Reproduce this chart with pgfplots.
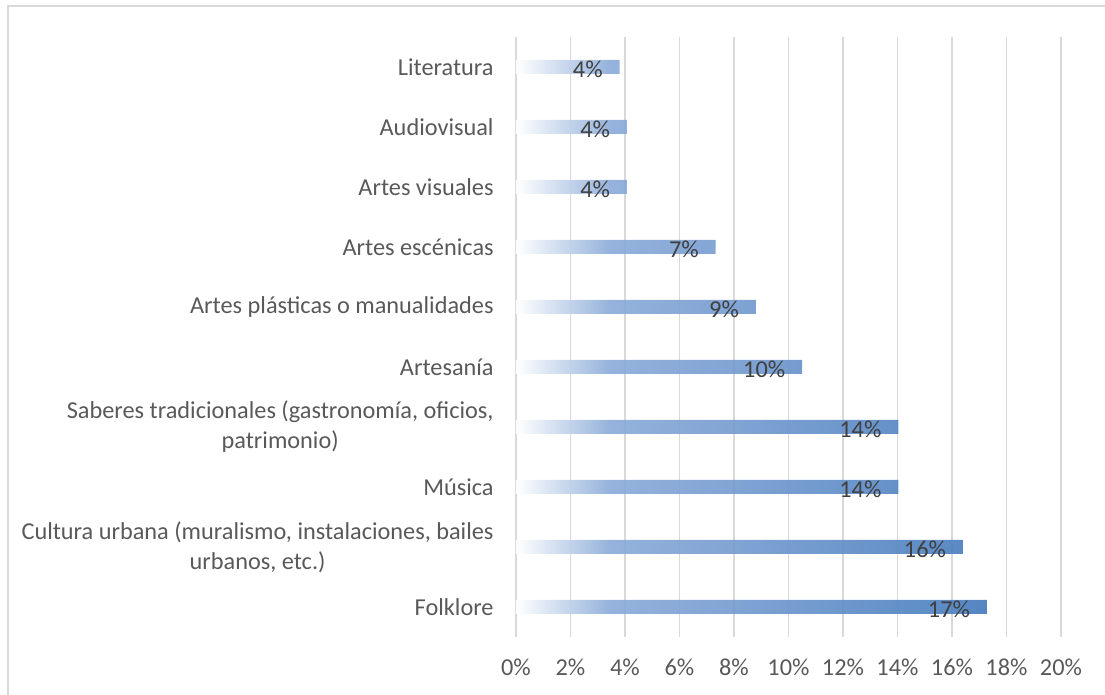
\documentclass[border=0pt]{standalone}
\usepackage{fontspec}
\setmainfont{Carlito}
\usepackage{pgfplots}
\pgfplotsset{compat=1.18}
\definecolor{gridc}{HTML}{D9D9D9}
\definecolor{txt}{HTML}{595959}
\definecolor{lbl}{HTML}{404040}
\definecolor{blight}{HTML}{8CACD9}
\definecolor{bdark}{HTML}{477CBD}
\pgfdeclarehorizontalshading{barshade}{100bp}{color(0bp)=(white); color(25bp)=(white); color(35bp)=(blight); color(75bp)=(bdark); color(100bp)=(bdark)}
\newcommand{\chartfont}{\fontsize{12.15}{15}\selectfont}
\begin{document}
\begin{tikzpicture}
\path[use as bounding box] (0,0) rectangle (552.5pt,347.5pt);
\draw[gridc, line width=1pt] (4pt,0) -- (4pt,344.5pt) -- (552.5pt,344.5pt);
\begin{axis}[
  at={(258pt,29pt)}, anchor=south west,
  scale only axis, width=272.5pt, height=300pt,
  xmin=0, xmax=20, ymin=-0.5, ymax=9.5,
  xtick={0,2,...,20},
  xticklabels={0\%,2\%,4\%,6\%,8\%,10\%,12\%,14\%,16\%,18\%,20\%},
  ytick={0,...,9},
  yticklabels={Folklore,{Cultura urbana (muralismo, instalaciones, bailes\\urbanos, etc.)},Música,{Saberes tradicionales (gastronomía, oficios,\\patrimonio)},Artesanía,Artes plásticas o manualidades,Artes escénicas,Artes visuales,Audiovisual,Literatura},
  yticklabel style={align=center, text=txt, font=\chartfont, inner sep=0pt, xshift=-11pt},
  xticklabel style={text=txt, font=\chartfont, inner sep=0pt, yshift=-11pt},
  axis line style={draw=none},
  major tick length=0pt,
  xmajorgrids,
  grid style={gridc, line width=0.75pt},
  xbar,
  bar width=7pt,
  nodes near coords={\pgfplotspointmeta\%},
  point meta=explicit symbolic,
  every node near coord/.append style={anchor=east, inner sep=0pt, xshift=-8.25pt, yshift=-1pt, text=lbl, font=\chartfont, opacity=1},
]
\addplot[draw=none, shading=barshade, fill opacity=0.92] table[x=x, y=y, meta=lab] {
y x lab
0 17.28 17
1 16.40 16
2 14.03 14
3 14.03 14
4 10.50 10
5 8.80 9
6 7.33 7
7 4.07 4
8 4.07 4
9 3.80 4
};
\end{axis}
\end{tikzpicture}
\end{document}
